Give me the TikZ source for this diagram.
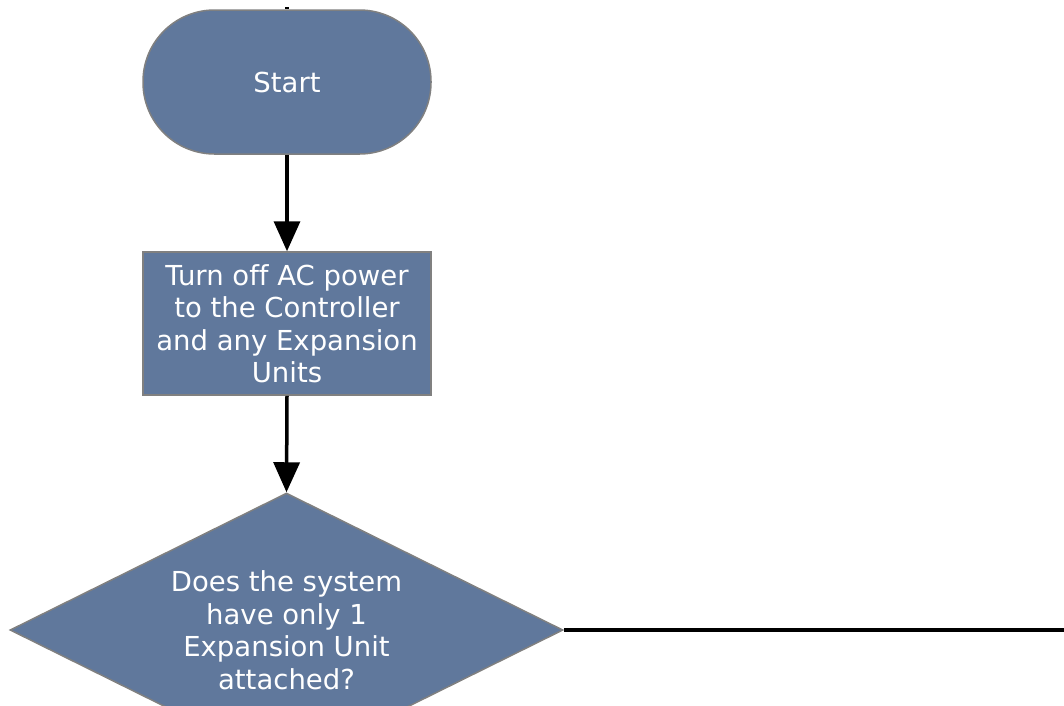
\documentclass[tikz,border=0pt]{standalone}
\usepackage{fontspec}
\setmainfont[Ligatures=NoCommon]{DejaVu Sans}
\usetikzlibrary{shapes.geometric,arrows.meta}
\definecolor{boxfill}{RGB}{96,120,156}
\definecolor{boxline}{RGB}{128,128,128}
\tikzset{
  flowbase/.style={fill=boxfill, draw=boxline, line width=1.5pt, text=white,
    align=center, font=\fontsize{27.5}{32.5}\selectfont, inner sep=0pt},
  startbox/.style={flowbase, rectangle, rounded corners=71.5pt, minimum width=288pt, minimum height=144pt},
  procbox/.style={flowbase, rectangle, minimum width=288pt, minimum height=143pt},
  decbox/.style={flowbase, diamond, aspect=2, minimum width=553pt, minimum height=274pt},
  conn/.style={line width=3.5pt, draw=black},
  arr/.style={conn, -{Triangle[length=30pt,width=26pt]}},
}
\begin{document}
\begin{tikzpicture}[x=1pt,y=-1pt]
\useasboundingbox (0,0) rectangle (1064,705);
\clip (0,0) rectangle (1064,705);
\node[startbox] (start) at (287,82) {Start};
\node[procbox] (off) at (287,323.5) {Turn off AC power\\to the Controller\\and any Expansion\\Units};
\node[decbox] (dec) at (286.5,630) {Does the system\\have only 1\\Expansion Unit\\attached?};
\coordinate (topin) at (287,7);
\coordinate (rightout) at (1066,630);
\draw[conn] (topin) -- (start.north);
\draw[arr] (start.south) -- (off.north);
\draw[arr] (off.south) -- (dec.north);
\draw[conn] (dec.east) -- (rightout);
\end{tikzpicture}
\end{document}
